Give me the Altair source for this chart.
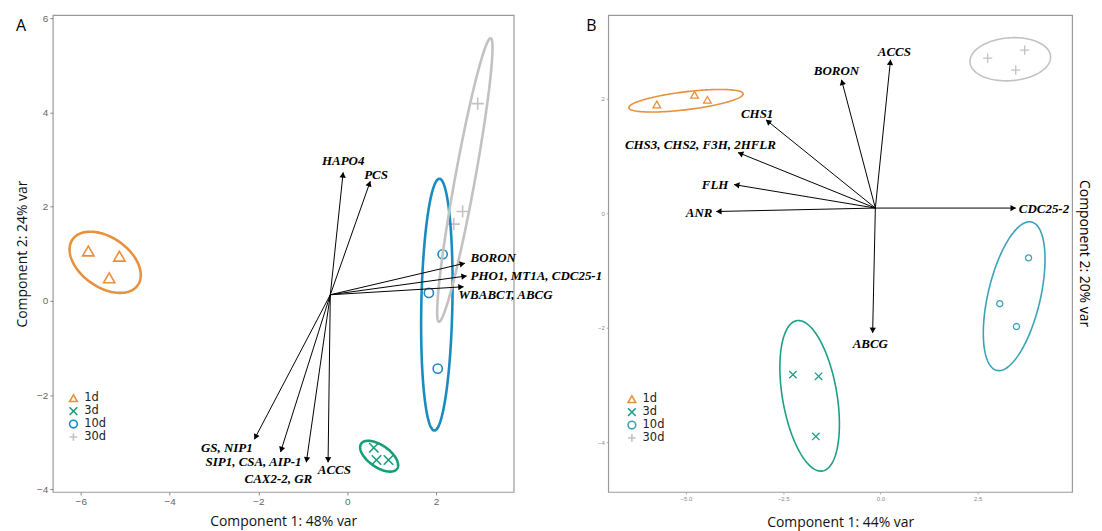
import numpy as np
import pandas as pd
import altair as alt

# ---------------- data ----------------
GROUPS = ["1d", "3d", "10d", "30d"]
SAMPLE_GROUP = ["1d"] * 3 + ["3d"] * 3 + ["10d"] * 3 + ["30d"] * 3

# Panel A scores
A_PC1 = [-5.83, -5.13, -5.36, 0.60, 0.66, 0.93, 2.15, 1.84, 2.04, 2.94, 2.60, 2.40]
A_PC2 = [1.06, 0.95, 0.49, -3.12, -3.38, -3.38, 0.99, 0.17, -1.44, 4.19, 1.90, 1.63]
# ellipses: centre x, centre y, axis vector u (x, y), axis vector v (x, y)
A_ELL_CX = [-5.45, 0.72, 2.02, 2.65]
A_ELL_CY = [0.82, -3.30, -0.08, 2.57]
A_ELL_UX = [0.735, 0.404, 0.056, 0.583]
A_ELL_UY = [-0.485, -0.267, 2.675, 3.013]
A_ELL_VX = [-0.32, -0.141, 0.35, 0.221]
A_ELL_VY = [-0.433, -0.190, 0.0, -0.038]
# loadings
A_ORIGIN = (-0.38, 0.13)
A_GENES = ["HAPO4", "PCS", "BORON", "PHO1, MT1A, CDC25-1", "WBABCT, ABCG",
           "GS, NIP1", "SIP1, CSA, AIP-1", "CAX2-2, GR", "ACCS"]
A_TIP_X = [-0.09, 0.52, 2.65, 2.69, 2.62, -2.09, -1.50, -0.92, -0.43]
A_TIP_Y = [2.73, 2.54, 0.80, 0.53, 0.30, -2.94, -3.21, -3.43, -3.43]
A_LAB_X = [-0.09, 0.65, 2.78, 2.78, 2.51, -2.71, -2.11, -1.55, -0.29]
A_LAB_Y = [2.98, 2.68, 0.91, 0.53, 0.13, -3.13, -3.42, -3.78, -3.59]
A_LAB_ALIGN = ["center", "center", "left", "left", "left", "center", "center", "center", "center"]

# Panel B scores
B_PC1 = [-5.75, -4.78, -4.45, -2.25, -1.59, -1.66, 3.81, 3.07, 3.50, 2.76, 3.71, 3.48]
B_PC2 = [1.90, 2.07, 1.98, -2.82, -2.85, -3.90, -0.78, -1.58, -1.98, 2.71, 2.85, 2.50]
B_ELL_CX = [-5.0, -1.82, 3.44, 3.34]
B_ELL_CY = [1.965, -3.19, -1.45, 2.69]
B_ELL_UX = [1.47, -0.332, 0.448, 1.036]
B_ELL_UY = [0.122, 1.313, 1.296, 0.052]
B_ELL_VX = [0.028, 0.69, 0.655, 0.04]
B_ELL_VY = [-0.155, 0.082, -0.105, -0.374]
B_ORIGIN = (-0.13, 0.09)
B_GENES = ["ACCS", "BORON", "CHS1", "CHS3, CHS2, F3H, 2HFLR", "FLH", "ANR", "CDC25-2", "ABCG"]
B_TIP_X = [0.26, -1.00, -2.94, -3.66, -3.76, -4.22, 3.48, -0.20]
B_TIP_Y = [2.68, 2.33, 1.63, 1.06, 0.50, 0.03, 0.09, -2.09]
B_LAB_X = [0.36, -1.13, -3.17, -4.63, -3.91, -4.32, 3.56, -0.26]
B_LAB_Y = [2.82, 2.49, 1.74, 1.20, 0.50, 0.00, 0.07, -2.28]
B_LAB_ALIGN = ["center", "center", "center", "center", "right", "right", "left", "center"]

SHAPES = ["triangle-up", "M-1,-1L1,1M-1,1L1,-1", "circle", "M-1,0L1,0M0,-1L0,1"]


def ellipse_frame(cx, cy, ux, uy, vx, vy, colors):
    t = np.linspace(0, 2 * np.pi, 181)
    frames = []
    for i, g in enumerate(GROUPS):
        frames.append(pd.DataFrame({
            "group": g,
            "col": colors[i],
            "order": np.arange(len(t)),
            "ex": cx[i] + ux[i] * np.cos(t) + vx[i] * np.sin(t),
            "ey": cy[i] + uy[i] * np.cos(t) + vy[i] * np.sin(t),
        }))
    return pd.concat(frames, ignore_index=True)


def panel(pc1, pc2, ell, origin, genes, tipx, tipy, labx, laby, labalign,
          xdom, ydom, w, h, colors, sizes, msw, esw, xaxis, yaxis,
          legx, legy, letter, letter_dx, right_title=None):
    xs = alt.Scale(domain=xdom, nice=False, zero=False)
    ys = alt.Scale(domain=ydom, nice=False, zero=False)
    sx = w / (xdom[1] - xdom[0])
    sy = h / (ydom[1] - ydom[0])

    def X(f):
        return alt.X(f, type="quantitative", scale=xs, axis=xaxis)

    def Y(f):
        return alt.Y(f, type="quantitative", scale=ys, axis=yaxis)

    cscale = alt.Scale(domain=GROUPS, range=colors)
    leg = alt.Legend(orient="none", legendX=legx, legendY=legy, title=None,
                     labelFont="DejaVu Sans", labelFontSize=11.5, labelColor="#222",
                     symbolSize=60, symbolStrokeWidth=1.6, rowPadding=-2,
                     labelOffset=5)

    size_map = dict(zip(GROUPS, sizes))
    pts_df = pd.DataFrame({"pc1": pc1, "pc2": pc2, "group": SAMPLE_GROUP,
                           "sz": [size_map[g] for g in SAMPLE_GROUP]})
    points = alt.Chart(pts_df).mark_point(filled=False, strokeWidth=msw, opacity=1).encode(
        x=X("pc1"), y=Y("pc2"),
        color=alt.Color("group:N", scale=cscale, legend=leg),
        shape=alt.Shape("group:N", scale=alt.Scale(domain=GROUPS, range=SHAPES), legend=leg),
        size=alt.Size("sz:Q", scale=None),
    )

    ell_df = ellipse_frame(*ell, colors)
    ellipses = alt.Chart(ell_df).mark_line(strokeWidth=esw).encode(
        x=X("ex"), y=Y("ey"), detail="group:N", order="order:Q",
        color=alt.Color("col:N", scale=None),
    )

    tipx = np.array(tipx)
    tipy = np.array(tipy)
    dxp = (tipx - origin[0]) * sx
    dyp = (tipy - origin[1]) * sy
    ln = np.hypot(dxp, dyp)
    ang = np.degrees(np.arctan2(dxp, dyp)) % 360
    back = 2.5
    ar_df = pd.DataFrame({
        "gene": genes, "x0": origin[0], "y0": origin[1],
        "tx": tipx, "ty": tipy,
        "hx": tipx - dxp / ln * back / sx, "hy": tipy - dyp / ln * back / sy,
        "ang": ang, "lx": labx, "ly": laby, "al": labalign,
    })
    rules = alt.Chart(ar_df).mark_rule(color="black", strokeWidth=1).encode(
        x=X("x0"), y=Y("y0"), x2="tx:Q", y2="ty:Q")
    heads = alt.Chart(ar_df).mark_point(shape="triangle-up", filled=True, color="black",
                                        size=40, opacity=1).encode(
        x=X("hx"), y=Y("hy"), angle=alt.Angle("ang:Q", scale=None))
    texts = []
    for a in ["left", "center", "right"]:
        texts.append(
            alt.Chart(ar_df).transform_filter(alt.datum.al == a).mark_text(
                align=a, baseline="middle", font="Liberation Serif", fontStyle="italic",
                fontWeight="bold", fontSize=13, color="black").encode(
                x=X("lx"), y=Y("ly"), text="gene:N"))

    extra_df = pd.DataFrame({"t": [letter]})
    letter_mark = alt.Chart(extra_df).mark_text(
        font="Open Sans", fontSize=16, color="black", align="center", baseline="middle").encode(
        x=alt.value(letter_dx), y=alt.value(11), text="t:N")

    layers = [points, ellipses, rules, heads] + texts + [letter_mark]
    if right_title:
        rt = alt.Chart(pd.DataFrame({"t": [right_title]})).mark_text(
            font="Open Sans", fontSize=14, color="black", angle=90,
            align="center", baseline="middle").encode(
            x=alt.value(w + 12), y=alt.value(h / 2), text="t:N")
        layers.append(rt)
    return alt.layer(*layers).properties(width=w, height=h)


axis_common = dict(grid=False, domain=False, titleFont="Open Sans", titleFontWeight="normal",
                   titleColor="#111", titleFontSize=14)

xaxisA = alt.Axis(values=[-6, -4, -2, 0, 2], title="Component 1: 48% var",
                  labelFont="Liberation Sans", labelFontSize=10, labelColor="#666",
                  tickColor="#888", tickSize=3, labelPadding=2, titlePadding=8, **axis_common)
yaxisA = alt.Axis(values=[-4, -2, 0, 2, 4, 6], title="Component 2: 24% var",
                  labelFont="Liberation Sans", labelFontSize=10, labelColor="#666",
                  tickColor="#888", tickSize=3, labelPadding=2, titlePadding=7, **axis_common)
xaxisB = alt.Axis(values=[-5.0, -2.5, 0.0, 2.5], format=".1f", title="Component 1: 44% var",
                  labelFont="Liberation Sans", labelFontSize=6, labelColor="#888",
                  tickColor="#aaa", tickSize=2, labelPadding=2, titlePadding=14, **axis_common)
yaxisB = alt.Axis(values=[-4, -2, 0, 2], title=None,
                  labelFont="Liberation Sans", labelFontSize=6, labelColor="#888",
                  tickColor="#aaa", tickSize=2, labelPadding=2, grid=False, domain=False)

chartA = panel(A_PC1, A_PC2, (A_ELL_CX, A_ELL_CY, A_ELL_UX, A_ELL_UY, A_ELL_VX, A_ELL_VY),
               A_ORIGIN, A_GENES, A_TIP_X, A_TIP_Y, A_LAB_X, A_LAB_Y, A_LAB_ALIGN,
               [-6.63, 3.75], [-4.06, 6.07], 463, 479,
               ["#E8913C", "#169E78", "#1A8BC0", "#C2C2C2"], [130, 90, 85, 150], 1.6, 2.6,
               xaxisA, yaxisA, 15, 379, "A", -32)
chartB = panel(B_PC1, B_PC2, (B_ELL_CX, B_ELL_CY, B_ELL_UX, B_ELL_UY, B_ELL_VX, B_ELL_VY),
               B_ORIGIN, B_GENES, B_TIP_X, B_TIP_Y, B_LAB_X, B_LAB_Y, B_LAB_ALIGN,
               [-7.0, 4.93], [-4.87, 3.46], 466, 479,
               ["#E8913C", "#1E9E86", "#3AA3B8", "#C2C2C2"], [60, 55, 38, 85], 1.3, 1.6,
               xaxisB, yaxisB, 18, 380, "B", -17, right_title="Component 2: 20% var")

chart = alt.hconcat(chartA, chartB, spacing=95, bounds="flush").resolve_scale(
    color="independent", shape="independent"
).resolve_legend(color="independent", shape="independent").properties(
    padding={"left": 6, "top": 3, "right": 2, "bottom": 0}
).configure_view(stroke="#9a9a9a", strokeWidth=1.2)

chart.save("out.html", embed_options={"renderer": "svg", "actions": False})
